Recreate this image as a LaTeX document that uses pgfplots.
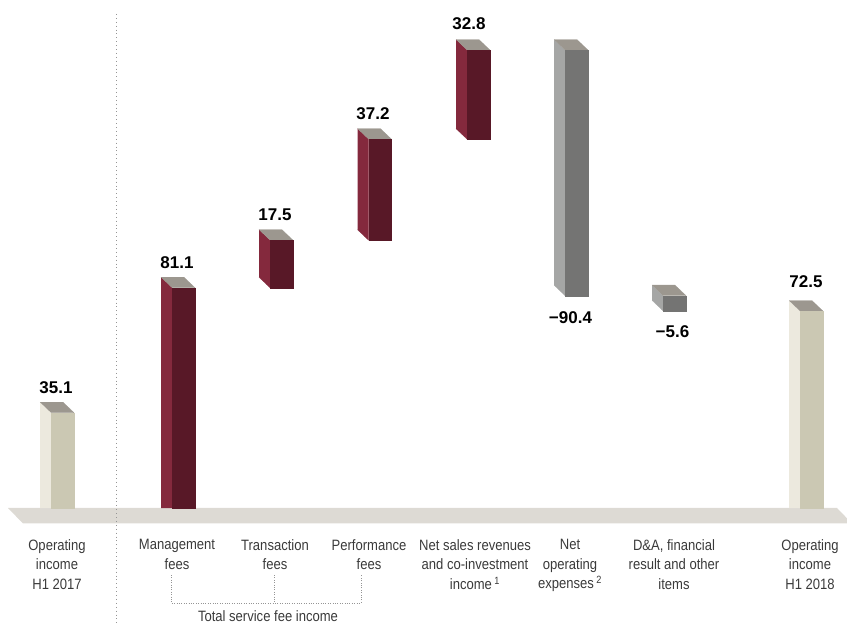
\documentclass[border=0pt]{standalone}
\usepackage{fontspec}
\setmainfont{Liberation Sans}
\newfontfamily\lblfont[FakeStretch=0.87]{Liberation Sans}
\usepackage{pgfplots}
\pgfplotsset{compat=1.18}
\definecolor{mfront}{HTML}{581827}
\definecolor{mside}{HTML}{84293D}
\definecolor{gfront}{HTML}{747473}
\definecolor{gside}{HTML}{A5A6A5}
\definecolor{bfront}{HTML}{CBC8B3}
\definecolor{bside}{HTML}{ECE9DE}
\definecolor{topc}{HTML}{9C978F}
\definecolor{floorc}{HTML}{DDDAD4}
\definecolor{lbl}{HTML}{3A3A3A}
\definecolor{dotc}{HTML}{959595}
% #1 front-left x (px), #2 base value, #3 change, #4 front, #5 side colour
\newcommand\tdbar[5]{%
  \pgfmathsetmacro\lo{min(#2,#2+#3)}%
  \pgfmathsetmacro\hi{max(#2,#2+#3)}%
  \pgfmathsetmacro\xa{#1}%
  \pgfmathsetmacro\xb{#1+23}%
  \pgfmathsetmacro\xc{#1-11}%
  \pgfmathsetmacro\xd{#1+12}%
  \pgfmathsetmacro\yt{\hi+3.87}%
  \pgfmathsetmacro\ysb{(\lo==0)?0:(\lo+3.87)}%
  \edef\doit{%
    \noexpand\addplot[fill=#5, draw=#5, line width=0.2pt] coordinates {(\xc,\yt) (\xa,\hi) (\xa,\lo) (\xc,\ysb)};
    \noexpand\addplot[fill=topc, draw=topc, line width=0.2pt] coordinates {(\xc,\yt) (\xd,\yt) (\xb,\hi) (\xa,\hi)};
    \noexpand\addplot[fill=#4, draw=#4, line width=0.2pt] coordinates {(\xa,\lo) (\xb,\lo) (\xb,\hi) (\xa,\hi)};
  }\doit
}
\begin{document}
\begin{tikzpicture}
\begin{axis}[
  name=ax,
  scale only axis, width=847pt, height=624pt,
  xmin=0, xmax=847, ymin=-42.71, ymax=187.04,
  hide axis, clip=false, no markers,
  every node/.style={inner sep=0pt, outer sep=0pt},
]
% floor
\addplot[fill=floorc, draw=none] coordinates {(8,0) (837,0) (852,-5.7) (23,-5.7)};
% dotted separator
\addplot[dotc, line width=1pt, dash pattern=on 0.9pt off 3pt] coordinates {(116.5,181.9) (116.5,-42.71)};
% bracket
\addplot[dotc, line width=0.8pt, dash pattern=on 0.8pt off 1.6pt] coordinates {(171,-24.67) (171,-34.98) (361,-34.98) (361,-24.67)};
\addplot[dotc, line width=0.8pt, dash pattern=on 0.8pt off 1.6pt] coordinates {(274,-24.67) (274,-34.98)};
% bars: front-left x, base, change
\tdbar{51}{0}{35.1}{bfront}{bside}
\tdbar{172}{0}{81.1}{mfront}{mside}
\tdbar{270}{81.1}{17.5}{mfront}{mside}
\tdbar{368.5}{98.6}{37.2}{mfront}{mside}
\tdbar{467}{135.8}{32.8}{mfront}{mside}
\tdbar{565}{168.6}{-90.4}{gfront}{gside}
\tdbar{663}{78.2}{-5.6}{gfront}{gside}
\tdbar{800}{0}{72.5}{bfront}{bside}
% value labels
\begin{scope}[every node/.append style={font=\bfseries\fontsize{17}{19}\selectfont, text=black}]
\node[anchor=base] at (axis cs:56,42.34) {35.1};
\node[anchor=base] at (axis cs:177,88.26) {81.1};
\node[anchor=base] at (axis cs:275,105.8) {17.5};
\node[anchor=base] at (axis cs:373,142.97) {37.2};
\node[anchor=base] at (axis cs:469,176.0) {32.8};
\node[anchor=north] at (axis cs:570.5,73.64) {−90.4};
\node[anchor=north] at (axis cs:672.5,68.48) {−5.6};
\node[anchor=base] at (axis cs:806,81.26) {72.5};
\end{scope}
% category labels
\begin{scope}[every node/.append style={font=\lblfont\fontsize{15}{19.5}\selectfont, text=lbl, align=center, anchor=north}]
\node at (axis cs:57,-10.3) {Operating\\income\\H1 2017};
\node at (axis cs:177,-10.3) {Management\\fees};
\node at (axis cs:275,-10.3) {Transaction\\fees};
\node at (axis cs:369,-10.3) {Performance\\fees};
\node at (axis cs:475,-10.3) {Net sales revenues\\and co-investment\\income\,\textsuperscript{1}};
\node at (axis cs:570,-10.3) {Net\\operating\\expenses\,\textsuperscript{2}};
\node at (axis cs:674,-10.3) {D\&A, financial\\result and other\\items};
\node at (axis cs:810,-10.3) {Operating\\income\\H1 2018};
\node[anchor=base] at (axis cs:268,-41.75) {Total service fee income};
\end{scope}
\end{axis}
\pgfresetboundingbox
\path (ax.south west) rectangle (ax.north east);
\end{tikzpicture}
\end{document}
